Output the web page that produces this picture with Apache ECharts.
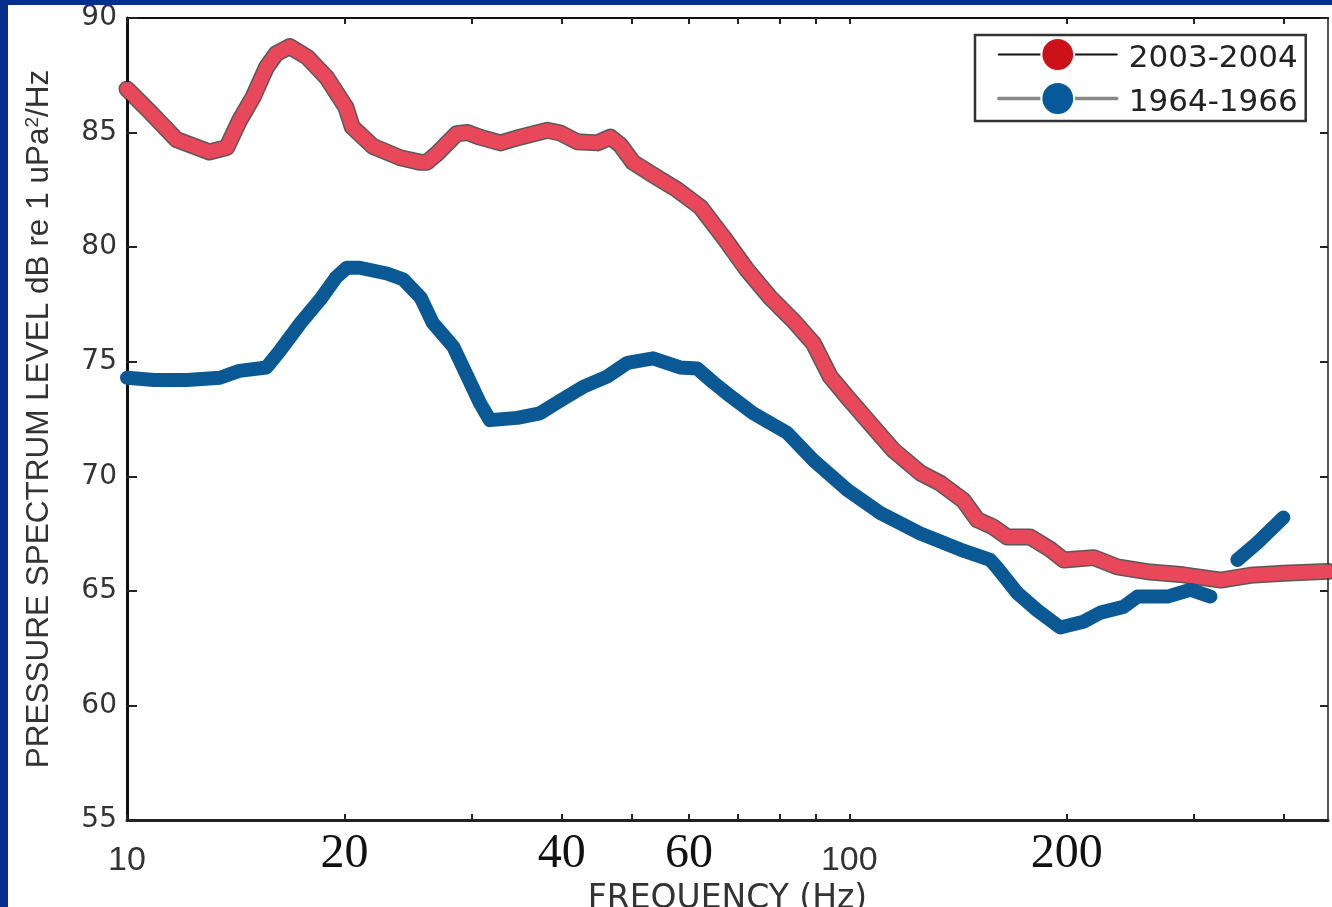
<!DOCTYPE html>
<html><head><meta charset="utf-8">
<script src="https://cdn.jsdelivr.net/npm/echarts@6/dist/echarts.min.js"></script>
<style>
html,body{margin:0;padding:0;background:#062e8e;width:1332px;height:907px;overflow:hidden}
#chart{position:absolute;left:8px;top:5px;width:1324px;height:902px;background:#fff}
</style></head><body><div id="chart"></div>
<script>
// ---- data (frequency in Hz, level in dB re 1 uPa^2/Hz) ----
const seriesNames = ['2003-2004', '1964-1966'];

const freqRecent = [10, 10.8, 11.7, 13.0, 13.75, 14.3, 14.95, 15.6, 16.1, 16.8, 17.75, 18.9, 20.1, 20.5, 21.9, 23.9, 25.5, 26.0, 26.9, 28.6, 29.6, 30.8, 32.9, 35.0, 38.2, 39.8, 42.0, 44.8, 46.7, 48.2, 50.2, 53.5, 57.8, 62.2, 66.9, 72.2, 77.7, 83.6, 89.2, 94.1, 99.4, 106.9, 115, 125.4, 133.6, 143.8, 150.4, 158, 165.5, 178, 190, 198, 218, 235, 261, 290, 327, 359, 399, 460];
const levelRecent = [86.9, 85.85, 84.7, 84.15, 84.35, 85.5, 86.55, 87.85, 88.45, 88.75, 88.3, 87.4, 86.1, 85.25, 84.4, 83.9, 83.7, 83.7, 84.1, 84.95, 85.0, 84.8, 84.55, 84.8, 85.1, 84.98, 84.6, 84.55, 84.8, 84.45, 83.7, 83.15, 82.5, 81.75, 80.45, 79.0, 77.8, 76.8, 75.8, 74.35, 73.45, 72.3, 71.15, 70.15, 69.7, 68.95, 68.1, 67.8, 67.35, 67.35, 66.8, 66.35, 66.45, 66.05, 65.82, 65.7, 65.47, 65.68, 65.77, 65.85];

const freqHist = [10, 10.9, 12.1, 13.45, 14.3, 15.6, 16.3, 17.4, 18.5, 19.5, 20.15, 21.0, 22.9, 24.1, 25.5, 26.5, 28.3, 29.6, 30.8, 31.8, 34.7, 37.3, 39.8, 42.8, 46.2, 49.3, 53.5, 58.3, 61.6, 64.8, 67.8, 73.6, 82.0, 89.2, 99.4, 110.4, 125.4, 142.5, 156.7, 160.3, 170.9, 182.1, 195.9, 210.9, 222.7, 239.6, 250.6, 275.7, 296.6, 316.2, 330, 344.6, 367.3, 399];
const levelHist = [74.3, 74.2, 74.2, 74.3, 74.6, 74.75, 75.5, 76.7, 77.7, 78.7, 79.1, 79.1, 78.85, 78.6, 77.8, 76.7, 75.65, 74.35, 73.2, 72.45, 72.55, 72.75, 73.3, 73.9, 74.35, 74.95, 75.15, 74.75, 74.7, 74.1, 73.6, 72.75, 71.9, 70.7, 69.4, 68.4, 67.5, 66.8, 66.35, 66.0, 64.9, 64.15, 63.4, 63.65, 64.05, 64.3, 64.75, 64.75, 65.05, 64.75, null, 66.35, 67.1, 68.2];

const xTickFreqs = [10, 20, 30, 40, 50, 60, 70, 80, 90, 100, 200, 300, 400];
const xLabelFreqs = [10, 20, 40, 60, 100, 200];
const sansLabelFreqs = [10, 100];
const xMin = 10, xMax = 460;
const yMin = 55, yMax = 90, yStep = 5;

// ---- build ----
const pairs = (xs, ys) => xs.map((x, i) => [x, ys[i] == null ? '-' : ys[i]]);
const recentData = pairs(freqRecent, levelRecent);
const histData = pairs(freqHist, levelHist);
const lg = v => Math.log10(v);

const chart = echarts.init(document.getElementById('chart'), null, {renderer: 'canvas'});
const gridBox = {left: 119, top: 13, right: 4, bottom: 87, outerBoundsMode: 'none'};

chart.setOption({
  animation: false,
  textStyle: {fontFamily: 'Liberation Sans'},
  grid: gridBox,
  legend: {
    orient: 'vertical',
    left: 967, top: 30,
    itemWidth: 118, itemHeight: 41, itemGap: 5,
    padding: [0, 8, 3, 22],
    borderColor: '#333', borderWidth: 2.5,
    formatter: name => '{t|' + name + '}',
    textStyle: {
      rich: {t: {fontFamily: 'DejaVu Sans', fontSize: 31, lineHeight: 31, color: '#222', padding: [8, 0, 0, 7]}}
    },
    data: [
      {name: seriesNames[0], itemStyle: {color: '#cc1119', borderColor: '#fff', borderWidth: 2}, lineStyle: {color: '#111', width: 2}},
      {name: seriesNames[1], itemStyle: {color: '#07599a', borderColor: '#fff', borderWidth: 2}, lineStyle: {color: '#888', width: 3.5}}
    ]
  },
  xAxis: [
    { // data axis (log)
      type: 'log', logBase: 10, min: xMin, max: xMax, position: 'bottom',
      axisLine: {show: true, lineStyle: {color: '#222', width: 3}},
      axisTick: {show: false}, minorTick: {show: false},
      axisLabel: {show: false}, splitLine: {show: false}, minorSplitLine: {show: false}
    },
    { // tick & label axis bottom
      type: 'value', min: lg(xMin), max: lg(xMax), position: 'bottom',
      axisLine: {show: false},
      axisTick: {show: true, inside: true, length: 6, customValues: xTickFreqs.map(lg), lineStyle: {color: '#222', width: 2}},
      axisLabel: {
        show: true, margin: 10, customValues: xLabelFreqs.map(lg),
        formatter: v => {
          const f = Math.round(Math.pow(10, v));
          return sansLabelFreqs.includes(f) ? '{s|' + f + '}' : '{t|' + f + '}';
        },
        rich: {
          s: {fontFamily: 'Liberation Sans', fontSize: 34, color: '#333', lineHeight: 62},
          t: {fontFamily: 'Liberation Serif', fontSize: 48, color: '#111', lineHeight: 48}
        }
      },
      splitLine: {show: false},
      name: 'FREQUENCY (Hz)', nameLocation: 'middle', nameGap: 53,
      nameTextStyle: {fontFamily: 'DejaVu Sans', fontSize: 33, color: '#333'}
    },
    { // top box side
      type: 'value', min: lg(xMin), max: lg(xMax), position: 'top',
      axisLine: {show: true, lineStyle: {color: '#111', width: 2}},
      axisTick: {show: true, inside: true, length: 6, customValues: xTickFreqs.map(lg), lineStyle: {color: '#222', width: 2}},
      axisLabel: {show: false}, splitLine: {show: false}
    }
  ],
  yAxis: [
    {
      type: 'value', min: yMin, max: yMax, interval: yStep, position: 'left',
      axisLine: {show: true, lineStyle: {color: '#111', width: 3}},
      axisTick: {show: true, inside: true, length: 10, lineStyle: {color: '#222', width: 2}},
      axisLabel: {margin: 10, fontFamily: 'DejaVu Sans', fontSize: 28, color: '#333', padding: [6, 0, 0, 0]},
      splitLine: {show: false},
      name: '{a|PRESSURE SPECTRUM LEVEL dB re 1 uPa}{sup|2}{a|/Hz}',
      nameLocation: 'middle', nameGap: 72,
      nameTextStyle: {
        rich: {
          a: {fontFamily: 'Liberation Sans', fontSize: 31.5, color: '#333'},
          sup: {fontFamily: 'Liberation Sans', fontSize: 19, color: '#333', verticalAlign: 'top'}
        }
      }
    },
    {
      type: 'value', min: yMin, max: yMax, interval: yStep, position: 'right',
      axisLine: {show: true, lineStyle: {color: '#555', width: 2}},
      axisTick: {show: true, inside: true, length: 8, lineStyle: {color: '#222', width: 2}},
      axisLabel: {show: false}, splitLine: {show: false}
    }
  ],
  series: [
    {
      name: 'outline', type: 'line', xAxisIndex: 0, yAxisIndex: 0, data: recentData,
      showSymbol: false, symbol: 'none', silent: true, z: 1,
      lineStyle: {color: '#222', width: 17, opacity: 0.75, cap: 'round', join: 'round'}
    },
    {
      name: seriesNames[1], type: 'line', xAxisIndex: 0, yAxisIndex: 0, data: histData,
      showSymbol: false, symbol: 'circle', connectNulls: false, z: 2,
      itemStyle: {color: '#0a5894'},
      lineStyle: {color: '#0a5894', width: 14, cap: 'round', join: 'round'}
    },
    {
      name: seriesNames[0], type: 'line', xAxisIndex: 0, yAxisIndex: 0, data: recentData,
      showSymbol: false, symbol: 'circle', z: 3,
      itemStyle: {color: '#e9485b'},
      lineStyle: {color: '#e9485b', width: 14, cap: 'round', join: 'round'}
    }
  ]
});
</script></body></html>
